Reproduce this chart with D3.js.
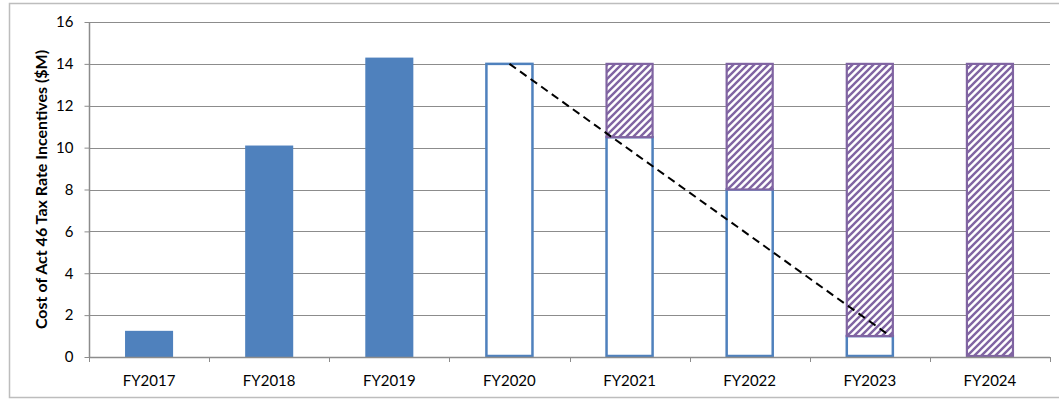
<!DOCTYPE html>
<html>
<head>
<meta charset="utf-8">
<script src="https://cdn.jsdelivr.net/npm/d3@7"></script>
<style>
  html, body { margin: 0; padding: 0; background: #fff; }
  svg { display: block; }
  text { font-family: Lato, "Open Sans", "Liberation Sans", sans-serif; fill: #000; }
</style>
</head>
<body>
<svg id="chart" width="1059" height="399"></svg>
<script>
// Fiscal years on the category axis
const years = ["FY2017", "FY2018", "FY2019", "FY2020", "FY2021", "FY2022", "FY2023", "FY2024"];
// Actual cost, solid bars ($M)
const actualCost = [1.25, 10.1, 14.3, null, null, null, null, null];
// Projected cost still incurred, open bars ($M)
const projectedCost = [null, null, null, 14, 10.5, 8, 1, 0];
// Projected savings stacked on top, hatched bars ($M)
const projectedSavings = [null, null, null, 0, 3.5, 6, 13, 14];
// Phase-out line: start and end as (year, position within band, value)
const phaseOutYears = ["FY2020", "FY2023"];
const phaseOutShift = [0, 0.17];
const phaseOutValues = [14, 1];
// Value axis ticks
const yTicks = [0, 2, 4, 6, 8, 10, 12, 14, 16];
const yTitle = "Cost of Act 46 Tax Rate Incentives ($M)";

const svg = d3.select("#chart");
const blue = "#4F81BD", purple = "#8064A2", grid = "#8C8C8C";
const plot = { left: 89, right: 1050, top: 22, bottom: 357 };

// Chart frame
svg.append("rect")
  .attr("x", 9.5).attr("y", 3.5).attr("width", 1060).attr("height", 394)
  .attr("fill", "#fff").attr("stroke", "#BDBDBD").attr("stroke-width", 1.5);

// Diagonal hatch fill
const defs = svg.append("defs");
const pat = defs.append("pattern")
  .attr("id", "hatch").attr("patternUnits", "userSpaceOnUse")
  .attr("width", 7).attr("height", 7);
pat.append("rect").attr("width", 7).attr("height", 7).attr("fill", "#fff");
pat.append("path")
  .attr("d", "M-1,8 L8,-1 M-4,4 L4,-4 M3,11 L11,3")
  .attr("stroke", purple).attr("stroke-width", 2.4);

const x = d3.scaleBand().domain(years).range([plot.left, plot.right]).padding(0);
const y = d3.scaleLinear().domain([0, 16]).range([plot.bottom, plot.top]);
const barW = x.bandwidth() * 0.4;
const cx = yr => x(yr) + x.bandwidth() / 2;

// Horizontal gridlines
svg.append("g").selectAll("line").data(yTicks.filter(t => t > 0)).join("line")
  .attr("x1", plot.left).attr("x2", plot.right)
  .attr("y1", d => Math.round(y(d)) + 0.5).attr("y2", d => Math.round(y(d)) + 0.5)
  .attr("stroke", grid).attr("stroke-width", 1);

// Solid bars for actual cost
svg.append("g").selectAll("rect")
  .data(years.map((yr, i) => ({ yr, v: actualCost[i] })).filter(d => d.v != null))
  .join("rect")
  .attr("x", d => cx(d.yr) - barW / 2).attr("width", barW)
  .attr("y", d => y(d.v)).attr("height", d => y(0) - y(d.v))
  .attr("fill", blue);

// Open bars for projected cost
svg.append("g").selectAll("rect")
  .data(years.map((yr, i) => ({ yr, v: projectedCost[i] })).filter(d => d.v != null && d.v > 0))
  .join("rect")
  .attr("x", d => cx(d.yr) - barW / 2 + 1).attr("width", barW - 2)
  .attr("y", d => y(d.v)).attr("height", d => y(0) - y(d.v) - 1)
  .attr("fill", "#fff").attr("stroke", blue).attr("stroke-width", 2.5);

// Hatched bars for projected savings, stacked on the open bars
svg.append("g").selectAll("rect")
  .data(years.map((yr, i) => ({ yr, base: projectedCost[i], v: projectedSavings[i] }))
    .filter(d => d.v != null && d.v > 0))
  .join("rect")
  .attr("x", d => cx(d.yr) - barW / 2 + 1).attr("width", barW - 2)
  .attr("y", d => y(d.base + d.v))
  .attr("height", d => y(d.base) - y(d.base + d.v) - (d.base > 0 ? 0 : 1))
  .attr("fill", "url(#hatch)").attr("stroke", purple).attr("stroke-width", 2.2);

// Axes
const yAxis = svg.append("g").attr("transform", `translate(${plot.left + 0.5},0)`)
  .call(d3.axisLeft(y).tickValues(yTicks).tickSize(5).tickPadding(11).tickFormat(d3.format("d")));
const xAxis = svg.append("g").attr("transform", `translate(0,${plot.bottom + 0.5})`)
  .call(d3.axisBottom(x).tickSize(0).tickPadding(18));
[yAxis, xAxis].forEach(g => {
  g.select(".domain").attr("stroke", grid).attr("stroke-width", 1.5);
  g.selectAll(".tick line").attr("stroke", grid);
  g.selectAll("text").style("font-size", "15px").attr("fill", "#000")
    .style("font-family", "Lato, 'Open Sans', sans-serif");
});
xAxis.select(".domain").attr("d", `M${plot.left},0H${plot.right}`);
yAxis.select(".domain").attr("d", `M0,${plot.top}V${plot.bottom}`);

// Category separators below the axis
svg.append("g").selectAll("line")
  .data(years.map(yr => x(yr)).concat([plot.right]))
  .join("line")
  .attr("x1", d => Math.round(d) + 0.5).attr("x2", d => Math.round(d) + 0.5)
  .attr("y1", plot.bottom).attr("y2", plot.bottom + 5)
  .attr("stroke", grid).attr("stroke-width", 1);

// Phase-out line
const trend = phaseOutYears.map((yr, i) => [cx(yr) + phaseOutShift[i] * x.bandwidth(), y(phaseOutValues[i])]);
svg.append("path")
  .attr("d", d3.line()(trend))
  .attr("fill", "none").attr("stroke", "#000").attr("stroke-width", 2)
  .attr("stroke-dasharray", "8,5");

// Value axis title
svg.append("text")
  .attr("transform", `translate(47,${(plot.top + plot.bottom) / 2}) rotate(-90)`)
  .attr("text-anchor", "middle")
  .style("font-size", "16px").style("font-weight", "bold")
  .text(yTitle);
</script>
</body>
</html>
